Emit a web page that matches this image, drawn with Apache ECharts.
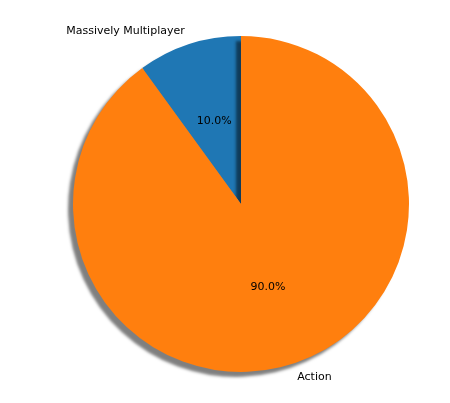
<!DOCTYPE html>
<html><head><meta charset="utf-8">
<script src="https://cdn.jsdelivr.net/npm/echarts@6/dist/echarts.min.js"></script>
<style>html,body{margin:0;padding:0;background:#fff}#c{width:450px;height:403px}</style>
</head><body><div id="c"></div>
<script>
const categories = ["Massively Multiplayer", "Action"];
const values = [10, 90];
const colors = ["#1f77b4", "#ff7f0e"];
const data = categories.map((n, i) => ({name: n, value: values[i], itemStyle: {color: colors[i]}}));
const chart = echarts.init(document.getElementById('c'));
const font = {fontFamily: 'DejaVu Sans', fontSize: 11, color: '#000'};
chart.setOption({
  animation: false,
  series: [
    {type: 'pie', center: [241, 204], radius: 168, startAngle: 90, clockwise: false,
     data: data, silent: true,
     itemStyle: {shadowBlur: 3, shadowOffsetX: -5, shadowOffsetY: 5, shadowColor: 'rgba(0,0,0,0.5)'},
     label: Object.assign({position: 'inside', formatter: p => p.value.toFixed(1) + '%'}, font),
     labelLine: {show: false}},
    {type: 'pie', center: [241, 204], radius: 168, startAngle: 90, clockwise: false,
     data: categories.map((n, i) => ({name: n, value: values[i]})), silent: true,
     itemStyle: {color: 'rgba(0,0,0,0)'},
     label: Object.assign({position: 'outside', formatter: '{b}', distanceToLabelLine: 0}, font),
     labelLine: {show: false, length: 14, length2: 0}}
  ]
});
</script></body></html>
